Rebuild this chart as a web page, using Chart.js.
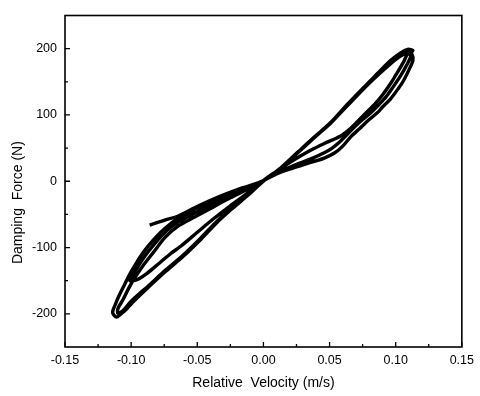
<!DOCTYPE html>
<html>
<head>
<meta charset="utf-8">
<script src="https://cdn.jsdelivr.net/npm/chart.js@4"></script>
<style>
    html, body { margin: 0; padding: 0; background: #fff; }
    #wrap { width: 480px; height: 396px; }
</style>
</head>
<body>
<div id="wrap"><canvas id="loopChart" width="480" height="396"></canvas></div>
<script>
// 刻度
const xTicks = [-0.15, -0.10, -0.05, 0.00, 0.05, 0.10, 0.15];
const xMinor = [-0.125, -0.075, -0.025, 0.025, 0.075, 0.125];
const yTicks = [-200, -100, 0, 100, 200];
const yMinor = [-150, -50, 50, 150];

// 第一圈（含起始尾段）: 速度 m/s, 阻尼力 N
const cycle1V = [-0.086, -0.075, -0.064, -0.049, -0.032, -0.016, 0.000, 0.013, 0.026, 0.038, 0.051, 0.063, 0.076, 0.087, 0.096, 0.104, 0.109, 0.113,
    0.109, 0.106, 0.100, 0.097, 0.090, 0.084, 0.079, 0.073, 0.066, 0.058, 0.046, 0.035, 0.022, 0.010, 0.000,
    -0.012, -0.025, -0.040, -0.052, -0.064, -0.075, -0.083, -0.090, -0.096, -0.101, -0.105, -0.109, -0.112, -0.114, -0.111, -0.107,
    -0.104, -0.099, -0.086, -0.074, -0.061, -0.048, -0.036, -0.024, -0.011, 0.000];
const cycle1F = [-66, -59, -52, -37, -22, -10, 1, 20, 44, 66, 89, 115, 142, 164, 182, 194, 199, 197,
    192, 180, 160, 150, 130, 116, 106, 94, 80, 68, 57, 46, 31, 15, 1,
    -9, -19, -31, -42, -55, -72, -88, -105, -123, -140, -156, -172, -186, -198, -205, -199,
    -194, -183, -158, -136, -114, -89, -64, -42, -20, 0];

// 第二圈
const cycle2V = [0.013, 0.026, 0.038, 0.051, 0.063, 0.076, 0.087, 0.096, 0.104, 0.109, 0.112,
    0.113, 0.110, 0.106, 0.102, 0.096, 0.090, 0.087, 0.080, 0.073, 0.066, 0.060, 0.054, 0.046, 0.035, 0.021, 0.010, 0.000,
    -0.012, -0.025, -0.040, -0.052, -0.064, -0.074, -0.0835, -0.092, -0.098, -0.102, -0.106, -0.110, -0.110, -0.106,
    -0.100, -0.086, -0.074, -0.061, -0.048, -0.036, -0.024, -0.011, 0.000];
const cycle2F = [20, 43, 65, 88, 114, 141, 163, 180, 192, 196, 193,
    182, 168, 152, 140, 124, 112, 105, 93, 80, 67, 53, 43, 35, 28, 19, 11, 1,
    -12, -25, -41, -54, -67, -84, -108, -130, -148, -162, -178, -192, -199, -195,
    -181, -156, -134, -112, -87, -62, -40, -19, 1];

// 第三圈（内侧小环）
const cycle3V = [0.013, 0.026, 0.038, 0.051, 0.063, 0.076, 0.087, 0.096, 0.103, 0.108, 0.111,
    0.111, 0.108, 0.104, 0.098, 0.093, 0.087, 0.081, 0.075, 0.069, 0.064, 0.058, 0.052, 0.046, 0.035, 0.022, 0.010, 0.000,
    -0.012, -0.025, -0.040, -0.052, -0.064, -0.075, -0.087, -0.094, -0.099, -0.101, -0.098,
    -0.094, -0.088, -0.079, -0.070, -0.0625, -0.050, -0.038, -0.025, -0.012, 0.000];
const cycle3F = [20, 43, 65, 88, 113, 140, 161, 177, 188, 193, 191,
    186, 174, 160, 142, 128, 115, 103, 93, 82, 72, 60, 50, 43, 33, 23, 12, 1,
    -10, -22, -36, -48, -61, -78, -106, -126, -142, -150, -150,
    -147, -139, -124, -109, -98, -77, -57, -37, -18, 0];

const velocity = [...cycle1V, ...cycle2V, ...cycle3V];
const force = [...cycle1F, ...cycle2F, ...cycle3F];

// 向内的刻度线和边框
const frameTicks = {
    id: 'frameTicks',
    afterDraw(chart) {
        const {ctx, chartArea: a, scales: {x, y}} = chart;
        ctx.save();
        ctx.strokeStyle = '#000';
        ctx.lineWidth = 1.6;
        ctx.strokeRect(a.left, a.top, a.right - a.left, a.bottom - a.top);
        ctx.lineWidth = 1.3;
        ctx.beginPath();
        xTicks.forEach(v => { const px = x.getPixelForValue(v); ctx.moveTo(px, a.bottom); ctx.lineTo(px, a.bottom - 5); });
        xMinor.forEach(v => { const px = x.getPixelForValue(v); ctx.moveTo(px, a.bottom); ctx.lineTo(px, a.bottom - 3); });
        yTicks.forEach(v => { const py = y.getPixelForValue(v); ctx.moveTo(a.left, py); ctx.lineTo(a.left + 5, py); });
        yMinor.forEach(v => { const py = y.getPixelForValue(v); ctx.moveTo(a.left, py); ctx.lineTo(a.left + 3, py); });
        ctx.stroke();
        ctx.restore();
    }
};

const tickFont = { family: 'Liberation Sans, Arial, sans-serif', size: 12.5 };
const titleFont = { family: 'Liberation Sans, Arial, sans-serif', size: 14 };

new Chart(document.getElementById('loopChart'), {
    type: 'scatter',
    data: {
        datasets: [{
            data: velocity.map((v, i) => ({ x: v, y: force[i] })),
            showLine: true,
            borderColor: '#000',
            borderWidth: 3.4,
            pointRadius: 0,
            tension: 0.3,
            fill: false
        }]
    },
    options: {
        responsive: false,
        animation: false,
        layout: { padding: { top: 11, right: 13, left: 0, bottom: 0 } },
        plugins: { legend: { display: false }, tooltip: { enabled: false } },
        scales: {
            x: {
                type: 'linear',
                min: -0.15,
                max: 0.15,
                afterBuildTicks: s => { s.ticks = xTicks.map(v => ({ value: v })); },
                afterFit: s => { s.height = 49; },
                grid: { display: false, drawTicks: false },
                border: { display: false },
                ticks: {
                    color: '#000',
                    font: tickFont,
                    padding: 6,
                    maxRotation: 0,
                    callback: v => v.toFixed(2)
                },
                title: {
                    display: true,
                    text: 'Relative  Velocity (m/s)',
                    color: '#000',
                    font: titleFont,
                    padding: { top: 0, bottom: 4 }
                }
            },
            y: {
                type: 'linear',
                min: -250,
                max: 250,
                afterBuildTicks: s => { s.ticks = yTicks.map(v => ({ value: v })); },
                afterFit: s => { s.width = 65; },
                grid: { display: false, drawTicks: false },
                border: { display: false },
                ticks: {
                    color: '#000',
                    font: tickFont,
                    padding: 8,
                    callback: v => String(v)
                },
                title: {
                    display: true,
                    text: 'Damping  Force (N)           ',
                    color: '#000',
                    font: titleFont,
                    padding: { top: 10, bottom: 0 }
                }
            }
        }
    },
    plugins: [frameTicks]
});
</script>
</body>
</html>
